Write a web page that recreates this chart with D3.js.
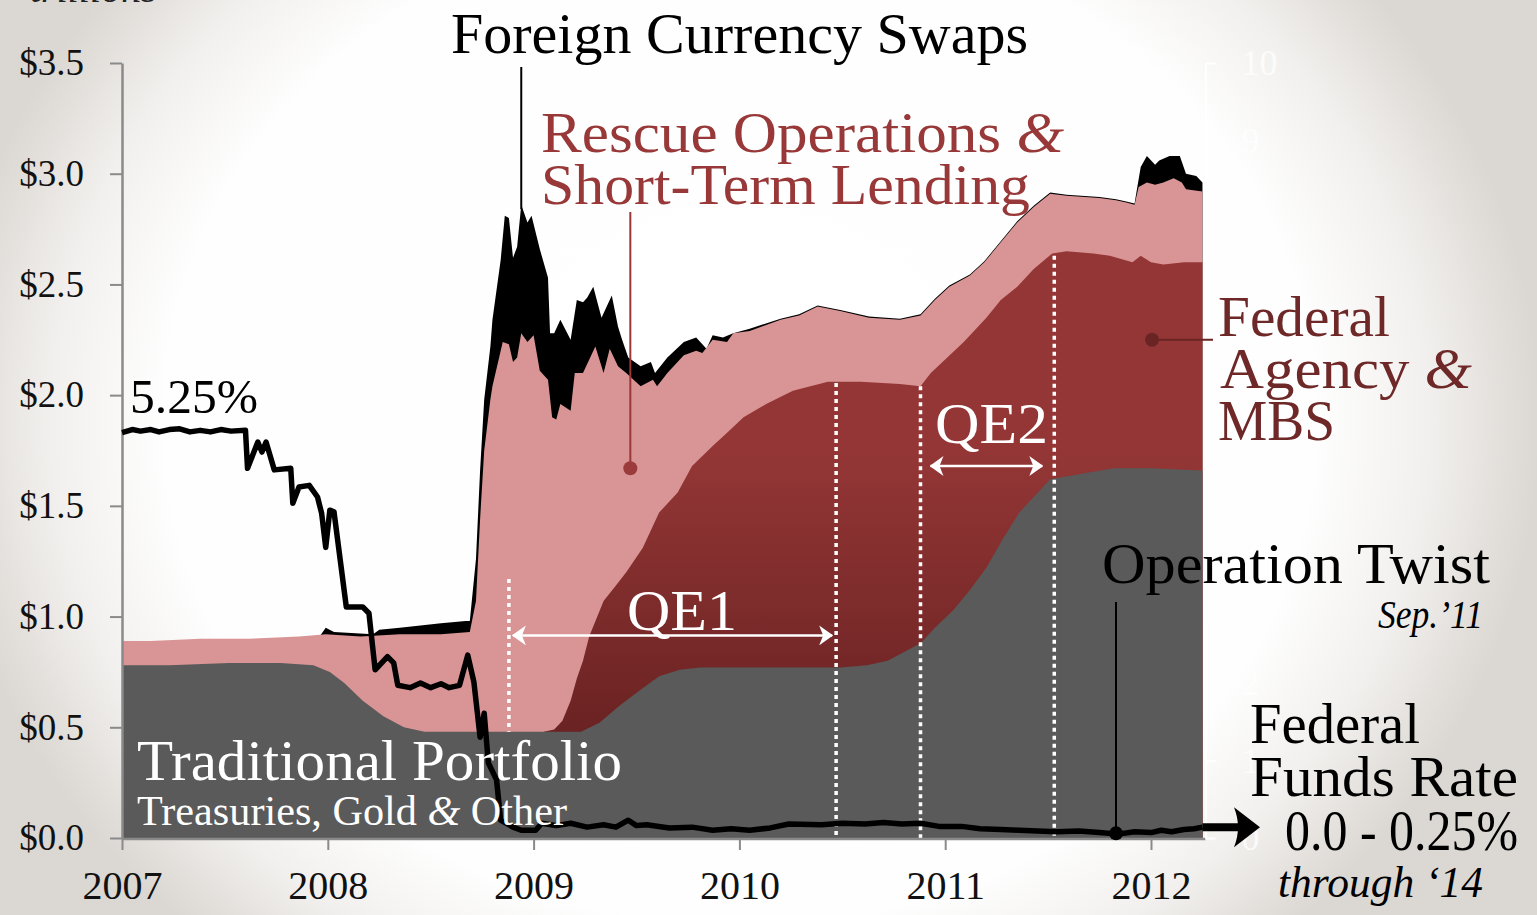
<!DOCTYPE html>
<html><head><meta charset="utf-8">
<script src="https://cdn.jsdelivr.net/npm/d3@7/dist/d3.min.js"></script>
<style>html,body{margin:0;padding:0;background:#fff;overflow:hidden}svg{display:block}</style>
</head><body>
<svg id="chart" width="1537" height="915"></svg>
<script>
// ---------- DATA (decimal year, $ trillions = top level of each stacked layer) ----------
const years = [2007, 2008, 2009, 2010, 2011, 2012];
const dollarTicks = [0, 0.5, 1, 1.5, 2, 2.5, 3, 3.5];
const rateTicks = [0,1,2,3,4,5,6,7,8,9,10];

// Traditional portfolio (Treasuries, gold & other)
const traditional = [
 [2007.00,0.78],[2007.23,0.78],[2007.52,0.79],[2007.77,0.79],[2007.93,0.78],[2008.01,0.75],
 [2008.08,0.70],[2008.17,0.62],[2008.27,0.55],[2008.37,0.50],[2008.47,0.48],[2008.69,0.48],
 [2008.98,0.48],[2009.23,0.48],[2009.32,0.52],[2009.42,0.60],[2009.52,0.67],[2009.61,0.73],
 [2009.71,0.76],[2009.81,0.77],[2010.49,0.77],[2010.62,0.78],[2010.72,0.80],[2010.80,0.84],
 [2010.88,0.88],[2010.95,0.95],[2011.04,1.03],[2011.12,1.12],[2011.20,1.22],[2011.28,1.35],
 [2011.36,1.47],[2011.44,1.55],[2011.51,1.62],[2011.69,1.65],[2011.82,1.67],[2012.00,1.67],[2012.25,1.66]
];
// + Federal agency debt & MBS
const agencyMBS = [
 [2009.05,0.48],[2009.10,0.49],[2009.14,0.53],[2009.18,0.62],[2009.21,0.72],[2009.24,0.80],
 [2009.27,0.91],[2009.34,1.07],[2009.40,1.14],[2009.45,1.20],[2009.53,1.31],[2009.61,1.47],
 [2009.70,1.56],[2009.77,1.68],[2009.87,1.77],[2009.94,1.83],[2010.02,1.90],[2010.13,1.96],
 [2010.26,2.02],[2010.43,2.06],[2010.59,2.06],[2010.78,2.05],[2010.88,2.04],[2010.93,2.10],
 [2011.01,2.17],[2011.09,2.24],[2011.14,2.29],[2011.20,2.35],[2011.27,2.43],[2011.35,2.49],
 [2011.43,2.57],[2011.52,2.64],[2011.59,2.65],[2011.72,2.64],[2011.80,2.63],[2011.91,2.60],
 [2011.95,2.63],[2012.00,2.60],[2012.06,2.59],[2012.16,2.60],[2012.25,2.60]
];
// + Rescue operations & short-term lending
const rescueLending = [
 [2007.00,0.89],[2007.14,0.89],[2007.38,0.90],[2007.62,0.90],[2007.86,0.91],[2007.99,0.92],
 [2008.16,0.91],[2008.35,0.92],[2008.55,0.92],[2008.69,0.93],[2008.72,1.07],[2008.74,1.44],
 [2008.76,1.75],[2008.79,1.98],[2008.80,2.04],[2008.83,2.16],[2008.85,2.24],[2008.88,2.23],
 [2008.90,2.15],[2008.92,2.17],[2008.94,2.28],[2008.97,2.24],[2009.00,2.27],[2009.03,2.11],
 [2009.07,2.07],[2009.09,1.90],[2009.11,1.89],[2009.13,1.96],[2009.18,1.93],[2009.20,2.10],
 [2009.24,2.10],[2009.30,2.22],[2009.34,2.10],[2009.37,2.21],[2009.41,2.13],[2009.45,2.10],
 [2009.52,2.04],[2009.58,2.07],[2009.60,2.04],[2009.65,2.10],[2009.73,2.18],[2009.79,2.20],
 [2009.82,2.19],[2009.87,2.25],[2009.94,2.24],[2009.97,2.28],[2010.05,2.29],[2010.20,2.34],
 [2010.29,2.36],[2010.38,2.40],[2010.49,2.38],[2010.63,2.35],[2010.78,2.34],[2010.88,2.36],
 [2010.95,2.43],[2011.02,2.49],[2011.12,2.54],[2011.19,2.60],[2011.27,2.69],[2011.35,2.78],
 [2011.43,2.85],[2011.51,2.91],[2011.59,2.90],[2011.75,2.89],[2011.83,2.88],[2011.88,2.87],
 [2011.92,2.86],[2011.94,2.94],[2011.98,2.96],[2012.02,2.95],[2012.06,2.96],[2012.11,2.98],
 [2012.15,2.96],[2012.17,2.93],[2012.25,2.92]
];
// + Foreign currency swaps (total balance sheet)
const currencySwaps = [
 [2007.90,0.91],[2007.96,0.91],[2007.99,0.95],[2008.03,0.93],[2008.22,0.92],[2008.25,0.94],
 [2008.35,0.95],[2008.55,0.97],[2008.67,0.98],[2008.69,0.98],[2008.72,1.26],[2008.74,1.66],
 [2008.76,1.98],[2008.79,2.22],[2008.80,2.34],[2008.84,2.61],[2008.86,2.81],[2008.88,2.80],
 [2008.90,2.62],[2008.92,2.67],[2008.94,2.86],[2008.97,2.78],[2008.99,2.81],[2009.03,2.66],
 [2009.07,2.53],[2009.08,2.28],[2009.10,2.28],[2009.13,2.34],[2009.18,2.25],[2009.21,2.43],
 [2009.24,2.42],[2009.26,2.44],[2009.29,2.49],[2009.33,2.35],[2009.38,2.45],[2009.41,2.31],
 [2009.43,2.25],[2009.46,2.17],[2009.52,2.13],[2009.57,2.15],[2009.59,2.10],[2009.65,2.17],
 [2009.73,2.24],[2009.79,2.26],[2009.84,2.21],[2009.87,2.27],[2009.92,2.26],[2009.97,2.28],
 [2010.05,2.30],[2010.20,2.345],[2010.29,2.365],[2010.38,2.405],[2010.49,2.385],[2010.63,2.355],
 [2010.78,2.345],[2010.88,2.365],[2010.95,2.435],[2011.02,2.495],[2011.12,2.545],[2011.19,2.605],
 [2011.27,2.695],[2011.35,2.785],[2011.43,2.855],[2011.51,2.915],[2011.59,2.905],[2011.75,2.895],
 [2011.83,2.885],[2011.88,2.875],[2011.92,2.865],[2011.95,3.03],[2011.98,3.08],[2012.02,3.04],
 [2012.04,3.06],[2012.09,3.08],[2012.14,3.08],[2012.17,3.00],[2012.22,2.99],[2012.25,2.96]
];
// Federal funds rate (%), right axis
const fedFunds = [
 [2007.00,5.23],[2007.05,5.27],[2007.09,5.25],[2007.14,5.27],[2007.18,5.24],[2007.23,5.27],
 [2007.28,5.28],[2007.33,5.24],[2007.38,5.26],[2007.43,5.24],[2007.48,5.27],[2007.53,5.25],
 [2007.60,5.26],[2007.61,4.77],[2007.66,5.11],[2007.68,4.98],[2007.70,5.11],[2007.74,4.75],
 [2007.82,4.77],[2007.83,4.32],[2007.86,4.53],[2007.91,4.55],[2007.95,4.40],[2007.97,4.19],
 [2007.99,3.75],[2008.01,4.23],[2008.03,4.21],[2008.09,2.98],[2008.17,2.98],[2008.20,2.90],
 [2008.23,2.17],[2008.29,2.34],[2008.32,2.26],[2008.34,1.97],[2008.40,1.94],[2008.45,2.00],
 [2008.50,1.94],[2008.55,1.99],[2008.59,1.94],[2008.64,1.97],[2008.68,2.36],[2008.71,2.01],
 [2008.74,1.30],[2008.76,1.61],[2008.78,0.97],[2008.82,0.75],[2008.84,0.23],[2008.90,0.14],
 [2008.94,0.10],[2009.01,0.10],[2009.04,0.19],[2009.11,0.16],[2009.18,0.19],[2009.26,0.14],
 [2009.34,0.17],[2009.40,0.14],[2009.46,0.23],[2009.50,0.16],[2009.55,0.17],[2009.66,0.13],
 [2009.77,0.14],[2009.87,0.10],[2009.96,0.12],[2010.05,0.10],[2010.15,0.13],[2010.24,0.18],
 [2010.40,0.17],[2010.50,0.19],[2010.61,0.18],[2010.70,0.20],[2010.79,0.18],[2010.88,0.19],
 [2010.97,0.15],[2011.08,0.15],[2011.17,0.12],[2011.27,0.11],[2011.36,0.10],[2011.45,0.09],
 [2011.54,0.08],[2011.65,0.09],[2011.75,0.07],[2011.84,0.05],[2011.92,0.08],[2012.00,0.07],
 [2012.05,0.10],[2012.10,0.08],[2012.16,0.11],[2012.21,0.12],[2012.25,0.14]
];
// QE boundaries: [date, top of dotted line ($T)]
const qeMarkers = [[2008.88,1.17],[2010.47,2.055],[2010.88,2.04],[2011.53,2.63]];
const qe1Span = [2008.88, 2010.47];
const qe2Span = [2010.88, 2011.53];

// ---------- SETUP ----------
const W = 1537, H = 915;
const svg = d3.select('#chart');
const FONT = '"Liberation Serif", "Times New Roman", serif';
const x = d3.scaleLinear().domain([2007, 2012]).range([122, 1151]);
const y = d3.scaleLinear().domain([0, 3.5]).range([838, 63]);
const yRate = d3.scaleLinear().domain([0, 10]).range([838, 63]);

const defs = svg.append('defs');
const bg = defs.append('radialGradient').attr('id','bg')
  .attr('gradientUnits','userSpaceOnUse').attr('cx',0).attr('cy',0).attr('r',1)
  .attr('gradientTransform','translate(740,420) scale(800,700)');
[[0,'#ffffff'],[0.72,'#fefefe'],[0.86,'#f2f0ee'],[1,'#dbd7d2']].forEach(s=>
  bg.append('stop').attr('offset',s[0]).attr('stop-color',s[1]));
svg.append('rect').attr('width',W).attr('height',H).attr('fill','url(#bg)');

const mg = defs.append('linearGradient').attr('id','mbs').attr('gradientUnits','userSpaceOnUse')
  .attr('x1',0).attr('x2',0).attr('y1',y(1.75)).attr('y2',y(0.45));
mg.append('stop').attr('offset',0).attr('stop-color','#943636');
mg.append('stop').attr('offset',1).attr('stop-color','#6a2222');

const arrowM = defs.append('marker').attr('id','wa').attr('markerUnits','userSpaceOnUse')
  .attr('viewBox','0 0 14 20').attr('refX',13).attr('refY',10)
  .attr('markerWidth',14).attr('markerHeight',20).attr('orient','auto-start-reverse');
arrowM.append('path').attr('d','M0,0 L14,10 L0,20 L4,10 Z').attr('fill','#fff');

// ---------- AREAS ----------
const area = d3.area().x(d=>x(d[0])).y0(y(0)).y1(d=>y(d[1]));
svg.append('path').datum(currencySwaps).attr('d',area).attr('fill','#000');
svg.append('path').datum(rescueLending).attr('d',area).attr('fill','#d99595');
svg.append('path').datum(agencyMBS).attr('d',area).attr('fill','url(#mbs)');
svg.append('path').datum(traditional).attr('d',area).attr('fill','#5a5a5a');

// QE dotted lines
svg.selectAll('.qe').data(qeMarkers).enter().append('line')
  .attr('x1',d=>x(d[0])).attr('x2',d=>x(d[0]))
  .attr('y1',d=>y(d[1])).attr('y2',(d,i)=> i===0 ? y(0.48) : y(0))
  .attr('stroke','#fff').attr('stroke-width',3.5).attr('stroke-dasharray','4,4');

// QE arrows
svg.append('line').attr('x1',x(qe1Span[0])+4).attr('x2',x(qe1Span[1])-4)
  .attr('y1',y(0.915)).attr('y2',y(0.915)).attr('stroke','#fff').attr('stroke-width',2.5)
  .attr('marker-start','url(#wa)').attr('marker-end','url(#wa)');
svg.append('line').attr('x1',x(qe2Span[0])+10).attr('x2',x(qe2Span[1])-12)
  .attr('y1',y(1.68)).attr('y2',y(1.68)).attr('stroke','#fff').attr('stroke-width',2.5)
  .attr('marker-start','url(#wa)').attr('marker-end','url(#wa)');

// ---------- AXES ----------
const gL = svg.append('g').attr('transform',`translate(${x(2007)},0)`)
  .call(d3.axisLeft(y).tickValues(dollarTicks).tickSize(12).tickSizeOuter(0).tickPadding(26)
    .tickFormat(d=>'$'+d3.format('.1f')(d)));
const gB = svg.append('g').attr('transform',`translate(0,${y(0)+1})`)
  .call(d3.axisBottom(x).tickValues(years).tickSize(11).tickSizeOuter(0).tickPadding(21)
    .tickFormat(d3.format('d')));
gB.select('.domain').attr('d',`M${x(2007)},0H${x(2012.25)+3}`);
[gL,gB].forEach(g=>{
  g.select('.domain').attr('stroke','#8a8a8a').attr('stroke-width',2.5);
  g.selectAll('.tick line').attr('stroke','#8a8a8a').attr('stroke-width',2);
  g.selectAll('.tick text').attr('fill','#111').style('font-family',FONT);
});
gL.selectAll('.tick text').style('font-size','37px');
gB.selectAll('.tick text').style('font-size','40px');

const rightX = x(2012.25)+3;
const gR = svg.append('g').attr('transform',`translate(${rightX},0)`)
  .call(d3.axisRight(yRate).tickValues(rateTicks).tickSize(10).tickSizeOuter(0).tickPadding(26));
gR.select('.domain').attr('stroke','#fff').attr('stroke-width',2).attr('opacity',0.9);
gR.selectAll('.tick line').attr('stroke','#fff').attr('stroke-width',2).attr('opacity',0.9);
gR.selectAll('.tick text').attr('fill','#fff').attr('opacity',0.75)
  .style('font-family',FONT).style('font-size','36px');

// ---------- FED FUNDS LINE ----------
svg.append('path').datum(fedFunds)
  .attr('d',d3.line().x(d=>x(d[0])).y(d=>yRate(d[1])))
  .attr('fill','none').attr('stroke','#000').attr('stroke-width',5.5)
  .attr('stroke-linejoin','round');
const last = fedFunds[fedFunds.length-1];
const ay = yRate(last[1]);
svg.append('line').attr('x1',x(last[0])).attr('x2',1242).attr('y1',ay).attr('y2',ay)
  .attr('stroke','#000').attr('stroke-width',8);
svg.append('path').attr('d',`M1260,${ay} L1234,${ay-20} Q1242,${ay} 1234,${ay+20} Z`).attr('fill','#000');

// ---------- POINTERS ----------
svg.append('line').attr('x1',x(2008.94)).attr('x2',x(2008.94)).attr('y1',67).attr('y2',y(2.84))
  .attr('stroke','#000').attr('stroke-width',2);
svg.append('line').attr('x1',x(2009.47)).attr('x2',x(2009.47)).attr('y1',212).attr('y2',y(1.67))
  .attr('stroke','#983838').attr('stroke-width',2);
svg.append('circle').attr('cx',x(2009.47)).attr('cy',y(1.67)).attr('r',7).attr('fill','#9b3b3b');
svg.append('line').attr('x1',x(2012.005)).attr('x2',1213).attr('y1',y(2.25)).attr('y2',y(2.25))
  .attr('stroke','#6b2424').attr('stroke-width',2);
svg.append('circle').attr('cx',x(2012.005)).attr('cy',y(2.25)).attr('r',7).attr('fill','#6b2424');
svg.append('line').attr('x1',x(2011.83)).attr('x2',x(2011.83)).attr('y1',602).attr('y2',yRate(0.06))
  .attr('stroke','#000').attr('stroke-width',2);
svg.append('circle').attr('cx',x(2011.83)).attr('cy',yRate(0.06)).attr('r',7).attr('fill','#000');

// ---------- TEXT ----------
function txt(s, tx, ty, size, color, opts={}){
  const t = svg.append('text').attr('x',tx).attr('y',ty)
    .attr('fill',color).style('font-family',FONT).style('font-size',size+'px');
  if(opts.anchor) t.attr('text-anchor',opts.anchor);
  if(opts.italic) t.style('font-style','italic');
  if(opts.len) t.attr('textLength',opts.len).attr('lengthAdjust','spacingAndGlyphs');
  if(Array.isArray(s)){
    s.forEach(p=>{ const sp=t.append('tspan').text(p[0]); if(p[1]) sp.style('font-style','italic'); });
  } else t.text(s);
  return t;
}
txt('trillions', 30, 2, 40, '#222', {italic:true});
txt('Foreign Currency Swaps', 451, 53, 56, '#000', {len:577});
const RED = '#983838', DRED = '#6e2828';
txt([['Rescue Operations '],['&',true]], 541, 152, 56, RED, {len:523});
txt('Short-Term Lending', 541, 204, 56, RED, {len:489});
txt('5.25%', 130, 413, 48, '#000', {len:128});
txt('Federal', 1218, 336, 57, DRED, {len:172});
txt([['Agency '],['&',true]], 1220, 388, 57, DRED, {len:252});
txt('MBS', 1218, 440, 57, DRED, {len:117});
txt('QE1', 627, 630, 56, '#fff', {len:110});
txt('QE2', 935, 443, 56, '#fff', {len:113});
txt('Traditional Portfolio', 137, 780, 57, '#fff', {len:485});
txt([['Treasuries, Gold '],['&',true],[' Other']], 137, 825, 42, '#fff', {len:430});
txt('Operation Twist', 1102, 583, 57, '#000', {len:388});
txt('Sep.\u201911', 1378, 628, 40, '#000', {italic:true, len:105});
txt('Federal', 1250, 743, 57, '#000', {len:170});
txt('Funds Rate', 1250, 796, 57, '#000', {len:268});
txt('0.0 - 0.25%', 1285, 850, 57, '#000', {len:233});
txt('through \u201814', 1278, 897, 44, '#000', {italic:true, len:205});
</script></body></html>
